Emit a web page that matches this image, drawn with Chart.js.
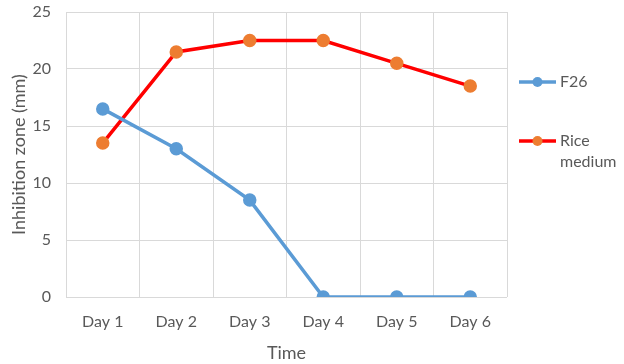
<!DOCTYPE html>
<html>
<head>
<meta charset="utf-8">
<script src="https://cdn.jsdelivr.net/npm/chart.js@4"></script>
<style>
  html, body { margin: 0; padding: 0; background: #fff; }
  #wrap { width: 624px; height: 364px; }
</style>
</head>
<body>
<div id="wrap"><canvas id="lineChart" width="624" height="364"></canvas></div>
<script>
const days = ["Day 1", "Day 2", "Day 3", "Day 4", "Day 5", "Day 6"];
const f26 = [16.5, 13, 8.5, 0, 0, 0];
const riceMedium = [13.5, 21.5, 22.5, 22.5, 20.5, 18.5];
const legendNames = [["F26"], ["Rice", "medium"]];

const textColor = "#595959";
const gridColor = "#d9d9d9";
const fontFamily = "Lato, 'Open Sans', sans-serif";

// legend drawn on the right, Excel style (marker on a short line, wrapped text)
const sideLegend = {
  id: "sideLegend",
  afterDraw(chart) {
    const ctx = chart.ctx;
    const x0 = 519;
    const rows = [82, 141];
    ctx.save();
    chart.data.datasets.forEach((ds, i) => {
      const y = rows[i];
      ctx.strokeStyle = ds.borderColor;
      ctx.lineWidth = 3.5;
      ctx.beginPath();
      ctx.moveTo(x0, y);
      ctx.lineTo(x0 + 37, y);
      ctx.stroke();
      ctx.fillStyle = ds.pointBackgroundColor;
      ctx.beginPath();
      ctx.arc(x0 + 18.5, y, 5, 0, Math.PI * 2);
      ctx.fill();
      ctx.fillStyle = textColor;
      ctx.font = "16px " + fontFamily;
      ctx.textBaseline = "middle";
      legendNames[i].forEach((line, j) => {
        ctx.fillText(line, x0 + 41, y + j * 21);
      });
    });
    ctx.restore();
  }
};

new Chart(document.getElementById("lineChart").getContext("2d"), {
  type: "line",
  data: {
    labels: days,
    datasets: [
      {
        label: "F26",
        data: f26,
        borderColor: "#5b9bd5",
        backgroundColor: "#5b9bd5",
        pointBackgroundColor: "#5b9bd5",
        pointBorderColor: "#5b9bd5",
        borderWidth: 3.5,
        pointRadius: 5,
        tension: 0,
      },
      {
        label: "Rice medium",
        data: riceMedium,
        borderColor: "#ff0000",
        backgroundColor: "#ed7d31",
        pointBackgroundColor: "#ed7d31",
        pointBorderColor: "#ed7d31",
        borderWidth: 3.5,
        pointRadius: 5,
        tension: 0,
      },
    ],
  },
  options: {
    responsive: false,
    animation: false,
    layout: { padding: { left: 8, right: 117, top: 0, bottom: 0 } },
    plugins: {
      legend: { display: false },
      tooltip: { enabled: false },
    },
    scales: {
      x: {
        offset: true,
        grid: { offset: true, color: gridColor, drawTicks: false },
        border: { display: false },
        ticks: { color: textColor, font: { family: fontFamily, size: 16 }, padding: 15, maxRotation: 0 },
        title: { display: true, text: "Time", color: textColor, font: { family: fontFamily, size: 18 }, padding: { top: 4, bottom: 0 } },
        afterFit(scale) { scale.height = 67; },
      },
      y: {
        min: 0,
        max: 25,
        ticks: { stepSize: 5, color: textColor, font: { family: fontFamily, size: 16 }, padding: 15 },
        grid: { color: gridColor, drawTicks: false },
        border: { display: false },
        title: { display: true, text: "Inhibition zone (mm)", color: textColor, font: { family: fontFamily, size: 18 }, padding: { top: 0, bottom: 4 } },
        afterFit(scale) {
          scale.width = 58;
          scale.paddingTop = 12;
        },
      },
    },
  },
  plugins: [sideLegend],
});
</script>
</body>
</html>
